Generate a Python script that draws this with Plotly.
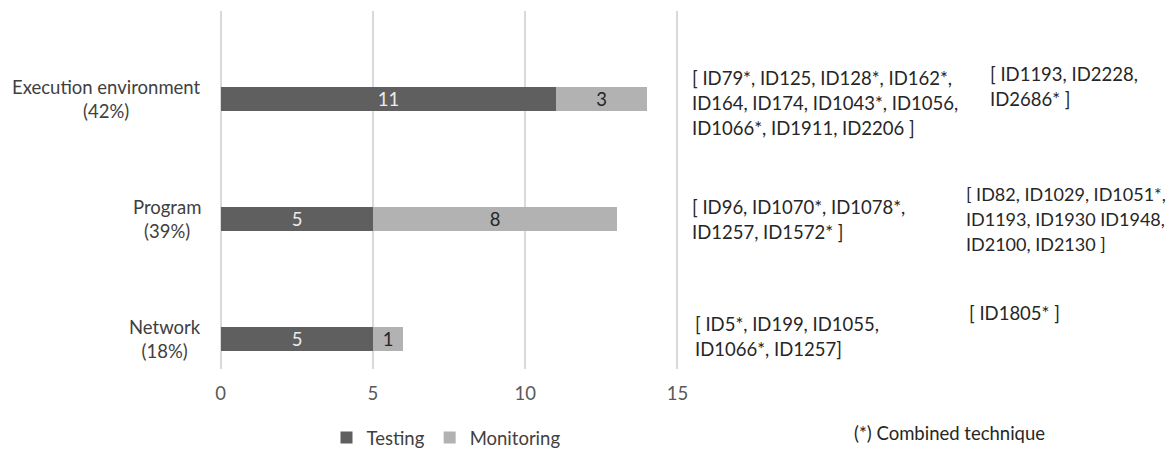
import plotly.graph_objects as go

# ---- data ----
categories = ["Network", "Program", "Execution environment"]
category_labels = ["Network<br>(18%)", "Program<br>(39%)", "Execution environment<br>(42%)"]
testing = [5, 5, 11]
monitoring = [1, 8, 3]

testing_ids = [
    ["[ ID5*, ID199, ID1055,", "ID1066*, ID1257]"],
    ["[ ID96, ID1070*, ID1078*,", "ID1257, ID1572* ]"],
    ["[ ID79*, ID125, ID128*, ID162*,", "ID164, ID174, ID1043*, ID1056,", "ID1066*, ID1911, ID2206 ]"],
]
monitoring_ids = [
    ["[ ID1805* ]"],
    ["[ ID82, ID1029, ID1051*,", "ID1193, ID1930 ID1948,", "ID2100, ID2130 ]"],
    ["[ ID1193, ID2228,", "ID2686* ]"],
]
x_ticks = [0, 5, 10, 15]
footnote = "(*) Combined technique"

FONT = "Lato"
FS = 18.5
DARK = "#5f5f5f"
LIGHT = "#b2b2b2"
TXT = "#404040"

PAD = 0.05  # small range padding so the edge gridlines at 0 and 15 are drawn
PLOT_L = 221 - PAD * 30.4   # page-pixel left of plot area
PLOT_W = 456 * (15 + 2 * PAD) / 15
PLOT_T, PLOT_B = 11, 369

fig = go.Figure()
fig.add_trace(go.Bar(
    y=categories, x=testing, orientation="h", name="Testing",
    marker=dict(color=DARK, line=dict(width=0)), width=0.2,
    text=testing, textposition="inside", insidetextanchor="middle",
    textfont=dict(color="#ececec", size=FS, family=FONT), textangle=0,
    constraintext="none",
))
fig.add_trace(go.Bar(
    y=categories, x=monitoring, orientation="h", name="Monitoring",
    marker=dict(color=LIGHT, line=dict(width=0)), width=0.2,
    text=monitoring, textposition="inside", insidetextanchor="middle",
    textfont=dict(color="#262626", size=FS, family=FONT), textangle=0,
    constraintext="none",
))

annotations = []
for cat, lab in zip(categories, category_labels):
    annotations.append(dict(
        x=0, xref="x", y=cat, yref="y", text=lab, showarrow=False,
        xanchor="right", xshift=-18, align="center",
        font=dict(family=FONT, size=FS, color=TXT),
    ))

def px_x(p):
    return (p - PLOT_L) / PLOT_W

def px_y(p):
    return (PLOT_B - p) / (PLOT_B - PLOT_T)

LINE = 24.8
col1_x = [692, 689, 689]
col1_y0 = [324, 207, 78]
col2_x = [966, 963, 987]
col2_y0 = [313, 194, 74]
col2_fs = [FS, 18, FS]
for i in range(3):
    for j, line in enumerate(testing_ids[i]):
        annotations.append(dict(
            x=px_x(col1_x[i]), xref="paper", y=px_y(col1_y0[i] + j * LINE), yref="paper",
            text=line, showarrow=False, xanchor="left", yanchor="middle",
            font=dict(family=FONT, size=FS, color="#262626"),
        ))
    for j, line in enumerate(monitoring_ids[i]):
        annotations.append(dict(
            x=px_x(col2_x[i]), xref="paper", y=px_y(col2_y0[i] + j * LINE), yref="paper",
            text=line, showarrow=False, xanchor="left", yanchor="middle",
            font=dict(family=FONT, size=col2_fs[i], color="#262626"),
        ))

annotations.append(dict(
    x=px_x(948), xref="paper", y=px_y(433), yref="paper", text=footnote,
    showarrow=False, xanchor="center", yanchor="middle",
    font=dict(family=FONT, size=FS, color="#262626"),
))

# page body has an 8px default margin: compensate
OFF = 8
W, H = 1176 - OFF, 449 - OFF
ml = PLOT_L - OFF
mt = PLOT_T - OFF
fig.update_layout(
    width=W, height=H,
    margin=dict(l=ml, r=W - ml - PLOT_W, t=mt, b=H - mt - (PLOT_B - PLOT_T)),
    paper_bgcolor="white", plot_bgcolor="white",
    barmode="stack",
    showlegend=True,
    legend=dict(orientation="h", xref="container", yref="container",
                x=(446 - OFF) / W, xanchor="center",
                y=(H - (438 - OFF)) / H, yanchor="middle",
                font=dict(family=FONT, size=FS, color=TXT), traceorder="normal",
                itemwidth=30),
    font=dict(family=FONT, size=FS, color=TXT),
    annotations=annotations,
    bargap=0,
)
fig.update_xaxes(
    range=[-PAD, 15 + PAD], tickvals=x_ticks, showgrid=True, gridcolor="#d9d9d9", gridwidth=1.5,
    zeroline=False, showline=False, ticks="outside", ticklen=8, tickcolor="rgba(0,0,0,0)",
    tickfont=dict(family=FONT, size=FS, color="#595959"), fixedrange=True,
)
fig.update_yaxes(
    categoryorder="array", categoryarray=categories, range=[-0.25, 2.733],
    showticklabels=False, showgrid=False, zeroline=False, showline=False,
)

fig.write_html("out.html")
